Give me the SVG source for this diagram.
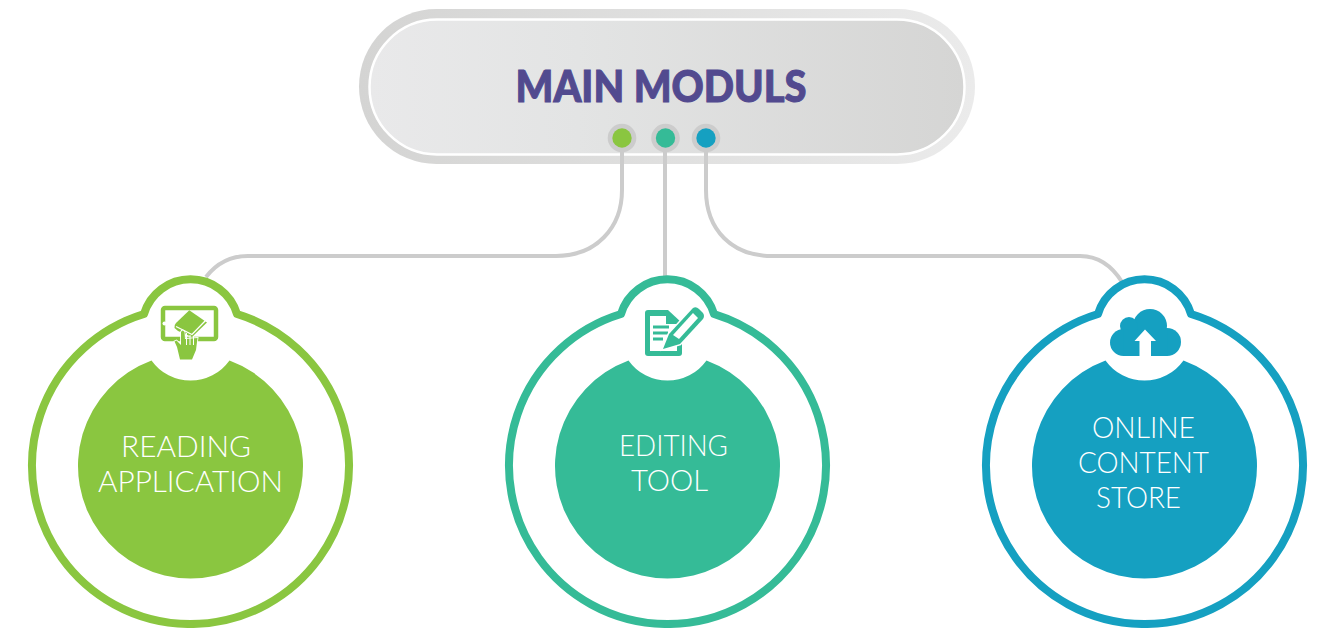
<svg xmlns="http://www.w3.org/2000/svg" width="1318" height="628" viewBox="0 0 1318 628">
<style>
.conn{fill:none;stroke:#cccccc;stroke-width:4}
.ring{fill:none;stroke-width:8;stroke-linejoin:round}
.lab{font-family:"Lato","Liberation Sans",sans-serif;font-weight:300;font-size:30px;fill:#ffffff}
.title{font-family:"Lato","Liberation Sans",sans-serif;font-weight:900;font-size:43px;fill:#524a8f;stroke:#524a8f;stroke-width:1}
.halo{fill:#cccccc}
</style>
<defs>
<linearGradient id="gO" x1="0" x2="1" y1="0" y2="0"><stop offset="0" stop-color="#d4d4d3"/><stop offset="1" stop-color="#ebebeb"/></linearGradient>
<linearGradient id="gI" x1="0" x2="1" y1="0" y2="0"><stop offset="0" stop-color="#e9e9ea"/><stop offset="0.35" stop-color="#e3e4e4"/><stop offset="1" stop-color="#d5d5d4"/></linearGradient>
<path id="ring" d="M-46.500,-152A158.500,158.500 0 1 0 46.500,-152A48.500,48.500 0 0 0 -46.500,-152Z"/>
<path id="disc" d="M-39,-105.500A112.500,112.500 0 1 0 39,-105.500A48,48 0 0 1 -39,-105.500Z"/>
</defs>
<g id="main-moduls">
<rect x="359" y="9" width="616" height="155" rx="77.500" fill="url(#gO)"/>
<rect x="369.500" y="19.500" width="595" height="135" rx="67.500" fill="url(#gI)" stroke="#ffffff" stroke-width="2.500"/>
<text class="title" x="515.500" y="102" textLength="291" lengthAdjust="spacingAndGlyphs">MAIN MODULS</text>
</g>
<g id="connectors">
<path class="conn" d="M622,150V190C622,228 596,256 556,256H248C230,256 216,264 206,277"/>
<path class="conn" d="M665,150V277"/>
<path class="conn" d="M706,150V190C706,230 732,256 772,256H1080C1098,256 1112,266 1122,282"/>
</g>
<g id="port-reading"><circle class="halo" cx="622" cy="138" r="14.300"/><circle cx="622" cy="138" r="9.700" fill="#8ac640"/></g>
<g id="port-editing"><circle class="halo" cx="665.500" cy="138" r="14.300"/><circle cx="665.500" cy="138" r="9.700" fill="#35bb97"/></g>
<g id="port-store"><circle class="halo" cx="706" cy="138" r="14.300"/><circle cx="706" cy="138" r="9.700" fill="#15a0c1"/></g>
<g id="reading-application">
<g transform="translate(190.500,466)"><use href="#ring" class="ring" style="stroke:#8ac640"/><use href="#disc" fill="#8ac640"/></g>
<rect x="163" y="308" width="53" height="31" rx="2" fill="#ffffff" stroke="#8ac640" stroke-width="4.500"/>
<circle cx="164.500" cy="323.500" r="2" fill="#ffffff"/>
<path fill="#8ac640" d="M189.300,310.300L207,322.500L192,337L178,331L174.500,328Q174,325 176,323Z"/>
<path fill="none" stroke="#ffffff" stroke-width="1.300" d="M176,326.500L192,334.500L206,320"/>
<path fill="#8ac640" stroke="#ffffff" stroke-width="1.800" paint-order="stroke" d="M180,359.500L177,347L174.500,341.500L176.500,340.500L181,345L181,332Q182.500,329 184.500,332L185,339L197.500,338L196,350L192,359.500Z"/>
<path stroke="#ffffff" stroke-width="1" fill="none" d="M186.500,333V345M190,335V345M193.500,336V345"/>
<text class="lab" x="121" y="457" textLength="130" lengthAdjust="spacingAndGlyphs">READING</text>
<text class="lab" x="98" y="492" textLength="185" lengthAdjust="spacingAndGlyphs">APPLICATION</text>
</g>
<g id="editing-tool">
<g transform="translate(667.500,466)"><use href="#ring" class="ring" style="stroke:#35bb97"/><use href="#disc" fill="#35bb97"/></g>
<path fill="#35bb97" d="M648,310H668L682,323V353Q682,356 679,356H648Q645,356 645,353V313Q645,310 648,310Z"/>
<path fill="#ffffff" d="M650,316H666V324H677V351H650Z"/>
<path fill="#35bb97" d="M653,325.500H669V328.500H653ZM653,331.500H668V334.500H653ZM653,337.500H663V340.500H653Z"/>
<path fill="#35bb97" stroke="#ffffff" stroke-width="3" paint-order="stroke" d="M663,349L669,334L693,308Q696,306 699,309L703,313Q705,316 703,319L680,344Z"/>
<path fill="#ffffff" d="M673,335L693,313L698,318L679,339Z"/>
<text class="lab" x="619" y="456" textLength="109" lengthAdjust="spacingAndGlyphs">EDITING</text>
<text class="lab" x="631" y="491" textLength="77" lengthAdjust="spacingAndGlyphs">TOOL</text>
</g>
<g id="online-content-store">
<g transform="translate(1144.500,466)"><use href="#ring" class="ring" style="stroke:#15a0c1"/><use href="#disc" fill="#15a0c1"/></g>
<g fill="#15a0c1">
<circle cx="1150" cy="326" r="17"/><circle cx="1129" cy="326" r="9"/><circle cx="1123.500" cy="342.500" r="13.500"/><circle cx="1167" cy="342" r="14"/><rect x="1123.500" y="330" width="44" height="26"/>
</g>
<path fill="#ffffff" d="M1145,329.500L1156,341H1151V357H1139.500V341H1134.500Z"/>
<text class="lab" x="1092" y="438" textLength="103" lengthAdjust="spacingAndGlyphs">ONLINE</text>
<text class="lab" x="1078" y="473" textLength="131" lengthAdjust="spacingAndGlyphs">CONTENT</text>
<text class="lab" x="1096" y="508" textLength="85" lengthAdjust="spacingAndGlyphs">STORE</text>
</g>
</svg>
